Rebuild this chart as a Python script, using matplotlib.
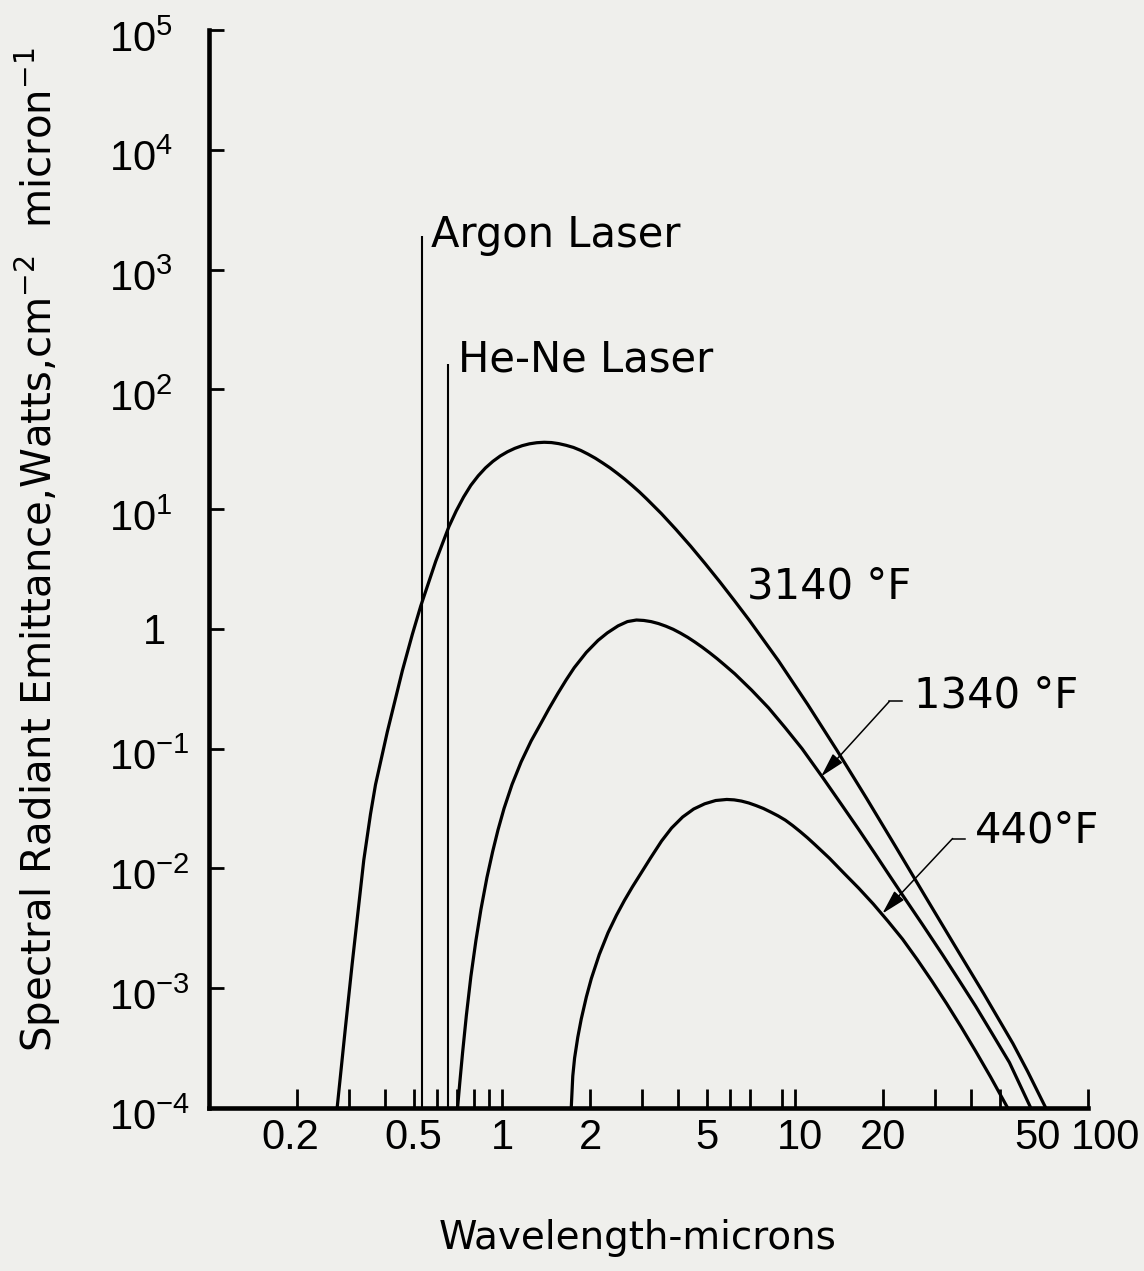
import matplotlib
matplotlib.use("Agg")
import matplotlib.pyplot as plt
from matplotlib.transforms import ScaledTranslation
import matplotlib.ticker as mticker

# ---------------- data ----------------
# wavelength (microns) and spectral radiant emittance (W cm^-2 micron^-1)
wl_3140F = [0.2737, 0.2922, 0.3080, 0.3237, 0.3375, 0.3558, 0.3701, 0.4060, 0.4569, 0.4944,
            0.5279, 0.5943, 0.6589, 0.6980, 0.7394, 0.7828, 0.8295, 0.8783, 0.9307, 0.9858,
            1.044, 1.106, 1.172, 1.241, 1.315, 1.393, 1.475, 1.562, 1.655, 1.753,
            1.857, 1.967, 2.084, 2.207, 2.338, 2.476, 2.624, 2.778, 2.944, 3.118,
            3.499, 3.925, 4.404, 4.941, 5.544, 6.221, 6.980, 8.787, 11.06, 13.93,
            17.53, 22.07, 27.78, 34.98, 44.04, 55.44, 62.21, 71.78]
em_3140F = [1.0e-4, 4.710e-4, 1.589e-3, 4.710e-3, 0.01175, 0.02844, 0.05012, 0.1380, 0.4467, 0.9016,
            1.549, 3.681, 7.143, 9.672, 12.61, 15.80, 18.97, 22.08, 25.03, 27.74,
            30.11, 32.16, 33.86, 35.09, 35.84, 36.14, 35.94, 35.21, 34.09, 32.73,
            30.89, 28.76, 26.57, 24.27, 22.08, 19.87, 17.77, 15.78, 13.91, 12.16,
            9.173, 6.761, 4.905, 3.496, 2.464, 1.713, 1.182, 0.5409, 0.2330, 0.09616,
            0.03863, 0.01515, 5.890e-3, 2.299e-3, 9.033e-4, 3.451e-4, 2.022e-4, 1.0e-4]

wl_1340F = [0.7053, 0.7182, 0.7336, 0.7556, 0.7829, 0.8146, 0.8472, 0.8883, 0.9293, 0.9689,
            1.016, 1.082, 1.162, 1.257, 1.360, 1.448, 1.551, 1.657, 1.764, 1.940,
            2.127, 2.288, 2.490, 2.680, 2.877, 3.047, 3.228, 3.420, 3.622, 3.837,
            4.064, 4.305, 4.560, 4.831, 5.116, 5.420, 5.740, 6.231, 7.112, 8.128,
            9.268, 10.57, 12.37, 14.49, 16.50, 18.79, 20.89, 23.25, 27.23, 31.88,
            36.31, 41.35, 47.21, 53.93, 63.80]
em_1340F = [1.0e-4, 1.659e-4, 2.897e-4, 5.902e-4, 1.250e-3, 2.498e-3, 4.535e-3, 8.395e-3, 0.01384, 0.02093,
            0.03165, 0.05022, 0.07742, 0.1159, 0.1639, 0.2167, 0.2892, 0.3762, 0.4741, 0.6364,
            0.8014, 0.9260, 1.060, 1.151, 1.186, 1.176, 1.150, 1.108, 1.054, 0.9927,
            0.9222, 0.8496, 0.7745, 0.7014, 0.6311, 0.5645, 0.5013, 0.4217, 0.3080, 0.2188,
            0.1491, 0.1, 0.05843, 0.0335, 0.02115, 0.01318, 8.910e-3, 6.026e-3, 3.404e-3, 1.905e-3,
            1.164e-3, 7.079e-4, 4.135e-4, 2.399e-4, 1.0e-4]

wl_440F = [1.723, 1.744, 1.769, 1.814, 1.864, 1.940, 2.018, 2.148, 2.301, 2.458,
           2.617, 2.787, 2.969, 3.213, 3.504, 3.791, 4.135, 4.510, 4.918, 5.363,
           5.849, 6.197, 6.563, 6.953, 7.364, 7.801, 8.262, 8.753, 9.271, 9.820,
           10.40, 11.02, 11.67, 13.10, 14.69, 16.49, 18.50, 20.76, 23.29, 26.13,
           29.32, 32.90, 36.92, 41.41, 46.47, 53.21]
em_440F = [1.0e-4, 1.847e-4, 2.611e-4, 3.896e-4, 5.528e-4, 8.442e-4, 1.205e-3, 1.912e-3, 2.908e-3, 4.064e-3,
           5.404e-3, 7.021e-3, 8.979e-3, 0.01222, 0.01694, 0.02175, 0.02688, 0.03134, 0.03465, 0.03692,
           0.03767, 0.03737, 0.03652, 0.03520, 0.03349, 0.03167, 0.02957, 0.02749, 0.02529, 0.02280,
           0.02037, 0.01806, 0.01589, 0.01219, 9.131e-3, 6.855e-3, 5.052e-3, 3.627e-3, 2.568e-3, 1.736e-3,
           1.149e-3, 7.459e-4, 4.745e-4, 2.965e-4, 1.822e-4, 1.0e-4]

curve_labels = ["3140 \u00b0F", "1340 \u00b0F", "440\u00b0F"]

laser_names = ["Argon Laser", "He-Ne Laser"]
laser_wl = [0.535, 0.652]
laser_top = [1900, 163]

xtick_values = [0.2, 0.5, 1, 2, 5, 10, 20, 50, 100]
xtick_labels = ["0.2", "0.5", "1", "2", "5", "10", "20", "50", "100"]
xminor_values = [0.3, 0.4, 0.6, 0.7, 0.8, 0.9, 3, 4, 6, 7, 9, 30, 40]
ytick_values = [1e-4, 1e-3, 1e-2, 1e-1, 1, 1e1, 1e2, 1e3, 1e4, 1e5]
ytick_labels = [r"$\mathregular{10^{-4}}$", r"$\mathregular{10^{-3}}$", r"$\mathregular{10^{-2}}$",
                r"$\mathregular{10^{-1}}$", "1", r"$\mathregular{10^{1}}$", r"$\mathregular{10^{2}}$",
                r"$\mathregular{10^{3}}$", r"$\mathregular{10^{4}}$", r"$\mathregular{10^{5}}$"]

xlabel = "Wavelength-microns"
ylabel = r"Spectral Radiant Emittance,Watts,cm$\mathregular{^{-2}}$  micron$\mathregular{^{-1}}$"

# ---------------- figure ----------------
plt.rcParams['font.family'] = ['DejaVu Sans']
plt.rcParams['mathtext.fontset'] = 'custom'
plt.rcParams['mathtext.rm'] = 'Liberation Sans'
plt.rcParams['mathtext.it'] = 'Liberation Sans:italic'
plt.rcParams['mathtext.bf'] = 'Liberation Sans:bold'

BG = '#efefec'
fig = plt.figure(figsize=(11.44, 12.71), dpi=100, facecolor=BG)
ax = fig.add_axes([209/1144, 1-1108/1271, 879/1144, 1078/1271])
ax.set_facecolor('none')
ax.set_xscale('log')
ax.set_yscale('log')
ax.set_xlim(0.1, 100)
ax.set_ylim(1e-4, 1e5)

lw_curve = 2.3
for wl, em in [(wl_3140F, em_3140F), (wl_1340F, em_1340F), (wl_440F, em_440F)]:
    ax.plot(wl, em, color='black', lw=lw_curve, solid_joinstyle='round', solid_capstyle='butt')

ax.vlines(laser_wl, 1e-4, laser_top, color='black', lw=1.5)

txt_kw = dict(color='black', fontsize=30, family='DejaVu Sans', va='center', ha='left')
ax.text(0.571, 1960, laser_names[0], **txt_kw)
ax.text(0.707, 178, laser_names[1], **txt_kw)
ax.text(6.85, 2.26, curve_labels[0], **txt_kw)
ax.text(25.56, 0.278, curve_labels[1], **txt_kw)
ax.text(41.0, 0.02075, curve_labels[2], **txt_kw)

arrow_kw = dict(arrowstyle='-|>,head_length=0.75,head_width=0.2', color='black', lw=1.1,
                shrinkA=0, shrinkB=0, mutation_scale=20)
# 1340 F pointer
ax.plot([20.99, 23.25], [0.248, 0.248], color='black', lw=1.1)
ax.annotate("", xy=(12.28, 0.0586), xytext=(20.99, 0.248), arrowprops=arrow_kw)
# 440 F pointer
ax.plot([34.5, 37.9], [0.01778, 0.01778], color='black', lw=1.1)
ax.annotate("", xy=(19.87, 4.2e-3), xytext=(34.5, 0.01778), arrowprops=arrow_kw)

# spines
for s in ['top', 'right']:
    ax.spines[s].set_visible(False)
for s in ['left', 'bottom']:
    ax.spines[s].set_linewidth(3.3)
    ax.spines[s].set_capstyle('projecting')

# ticks
ax.xaxis.set_major_locator(mticker.FixedLocator(xtick_values))
ax.xaxis.set_minor_locator(mticker.FixedLocator(xminor_values))
ax.xaxis.set_minor_formatter(mticker.NullFormatter())
ax.set_xticklabels(xtick_labels)
ax.yaxis.set_major_locator(mticker.FixedLocator(ytick_values))
ax.yaxis.set_minor_locator(mticker.NullLocator())
ax.set_yticklabels(ytick_labels)

ax.tick_params(axis='x', which='both', direction='in', length=14, width=2.0, pad=7,
               labelsize=30, top=False)
ax.tick_params(axis='y', which='both', direction='in', length=11, width=2.0, pad=72,
               labelsize=30, right=False)
for lab in ax.get_xticklabels() + ax.get_yticklabels():
    lab.set_family('Liberation Sans')

x_shift = {"0.2": -7, "10": 5, "50": 38, "100": 18}
for lab in ax.get_xticklabels():
    dx = x_shift.get(lab.get_text(), 0)
    lab.set_transform(lab.get_transform() + ScaledTranslation(dx/100, 0, fig.dpi_scale_trans))
for lab in ax.get_yticklabels():
    lab.set_horizontalalignment('left')
    if lab.get_text() == "1":
        dx, dy = 34, 0
    else:
        dx, dy = 0, -6
    lab.set_transform(lab.get_transform() + ScaledTranslation(dx/100, dy/100, fig.dpi_scale_trans))

fig.text(0.557, 1-1238/1271, xlabel, fontsize=28, ha='center', va='center', family='DejaVu Sans')
fig.text(0.0332, 1-550/1271, ylabel, fontsize=29, rotation=90, ha='center', va='center',
         family='DejaVu Sans')

fig.savefig('out.png', dpi=100, facecolor=BG)
